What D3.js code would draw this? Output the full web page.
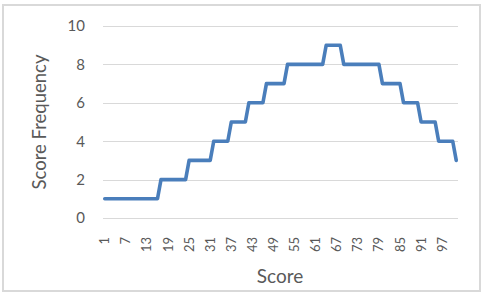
<!DOCTYPE html>
<html>
<head>
<meta charset="utf-8">
<script src="https://cdn.jsdelivr.net/npm/d3@7"></script>
<style>
  body { margin: 0; background: #fff; }
  text { font-family: Lato, "Open Sans", sans-serif; fill: #595959; }
</style>
</head>
<body>
<div id="chart"></div>
<script>
// scores 1..101 and how many times each one came up
const scores = d3.range(1, 102)
const runs = [
  [1, 16], [2, 8], [3, 7], [4, 5], [5, 5], [6, 5], [7, 6], [8, 11],
  [9, 5], [8, 11], [7, 6], [6, 5], [5, 5], [4, 5], [3, 1]
]
const frequency = runs.flatMap(([v, n]) => Array(n).fill(v))
const yTicks = [0, 2, 4, 6, 8, 10]
const xTickLabels = scores.filter((d, i) => i % 6 === 0)

const width = 483
const height = 295
const margin = { top: 26, right: 25, bottom: 77, left: 103 }

const svg = d3.select('#chart')
  .append('svg')
  .attr('width', width)
  .attr('height', height)

// chart frame
svg.append('rect')
  .attr('x', 3)
  .attr('y', 5)
  .attr('width', 477)
  .attr('height', 286)
  .attr('fill', '#fff')
  .attr('stroke', '#d9d9d9')
  .attr('stroke-width', 2)

const x = d3.scaleBand()
  .domain(scores)
  .range([margin.left, width - margin.right])

const y = d3.scaleLinear()
  .domain([0, 10])
  .range([height - margin.bottom, margin.top])

// gridlines
svg.append('g')
  .selectAll('line')
  .data(yTicks)
  .join('line')
  .attr('x1', margin.left)
  .attr('x2', width - margin.right)
  .attr('y1', d => Math.round(y(d)) + 0.5)
  .attr('y2', d => Math.round(y(d)) + 0.5)
  .attr('stroke', '#d9d9d9')
  .attr('stroke-width', 1)

// y axis
const yAxis = svg.append('g')
  .attr('transform', `translate(${margin.left - 18}, 0)`)
  .call(d3.axisLeft(y).tickValues(yTicks).tickSize(0).tickPadding(0))
yAxis.select('.domain').remove()
yAxis.selectAll('text')
  .style('font-size', '15px')
  .attr('fill', '#595959')

// x axis (rotated labels)
const xAxis = svg.append('g')
  .attr('transform', `translate(0, ${height - margin.bottom})`)
  .call(d3.axisBottom(x).tickValues(xTickLabels).tickSize(0))
xAxis.select('.domain').remove()
xAxis.selectAll('text')
  .style('font-size', '13px')
  .attr('fill', '#595959')
  .attr('text-anchor', 'end')
  .attr('dy', '0.35em')
  .attr('transform', 'translate(0, 19) rotate(-90)')
  .attr('x', 0)
  .attr('y', 0)

// the line
const line = d3.line()
  .x((d, i) => x(scores[i]) + x.bandwidth() / 2)
  .y(d => y(d))

svg.append('path')
  .datum(frequency)
  .attr('d', line)
  .attr('fill', 'none')
  .attr('stroke', '#4a7ebb')
  .attr('stroke-width', 3.6)
  .attr('stroke-linejoin', 'round')
  .attr('stroke-linecap', 'round')

// axis titles
svg.append('text')
  .attr('transform', `translate(46, 122) rotate(-90)`)
  .attr('text-anchor', 'middle')
  .style('font-size', '18.5px')
  .text('Score Frequency')

svg.append('text')
  .attr('x', 280)
  .attr('y', 283)
  .attr('text-anchor', 'middle')
  .style('font-size', '19px')
  .text('Score')
</script>
</body>
</html>
